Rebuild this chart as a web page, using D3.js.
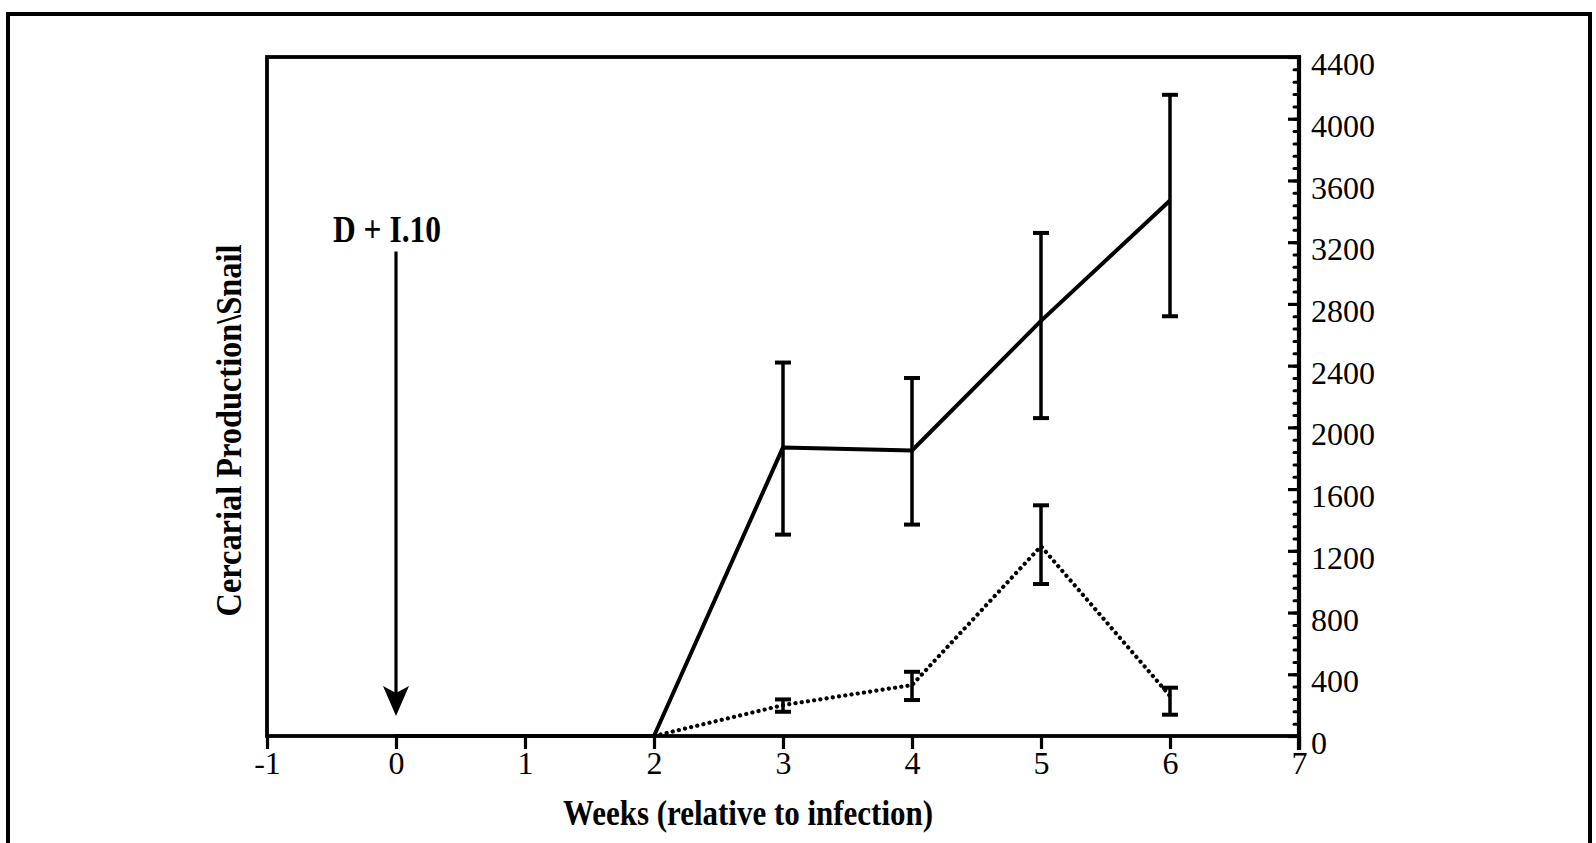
<!DOCTYPE html>
<html>
<head>
<meta charset="utf-8">
<script src="https://cdn.jsdelivr.net/npm/d3@7"></script>
<style>
  html, body { margin: 0; padding: 0; background: #fff; }
  svg { display: block; }
  text { font-family: "Liberation Serif", "Times New Roman", serif; fill: #000; }
</style>
</head>
<body>
<svg id="chart" width="1596" height="843"></svg>
<script>
// ---- data ----
const weeks = [0, 1, 2, 3, 4, 5, 6];
const solidMean  = [0, 0, 0, 1870, 1850, 2690, 3470];
const solidUpper = [null, null, null, 2420, 2320, 3260, 4155];
const solidLower = [null, null, null, 1305, 1370, 2060, 2720];
const dottedMean  = [0, 0, 0, 200, 330, 1230, 260];
const dottedUpper = [null, null, null, 237, 416, 1495, 313];
const dottedLower = [null, null, null, 157, 233, 985, 138];
const xTicks = [-1, 0, 1, 2, 3, 4, 5, 6, 7];
const yTicks = [0, 400, 800, 1200, 1600, 2000, 2400, 2800, 3200, 3600, 4000, 4400];
const yMinorTicks = d3.range(0, 4401, 80);
const xTitle = "Weeks (relative to infection)";
const yTitle = "Cercarial Production\\Snail";
const annotationLabel = "D + I.10";
const annotationWeek = 0;
const annotationLabelAt = 3170;
const annotationTop = 3140;
const annotationTip = 130;

// ---- layout ----
const svg = d3.select("#chart");
const x = d3.scaleLinear().domain([-1, 7]).range([267, 1299]);
const y = d3.scaleLinear().domain([0, 4400]).range([736, 57]);

svg.append("rect").attr("width", 1596).attr("height", 843).attr("fill", "#fff");

// outer frame
svg.append("rect")
  .attr("x", 8).attr("y", 14).attr("width", 1582).attr("height", 860)
  .attr("fill", "none").attr("stroke", "#000").attr("stroke-width", 4);

// plot box
svg.append("rect")
  .attr("x", x(-1)).attr("y", y(4400))
  .attr("width", x(7) - x(-1)).attr("height", y(0) - y(4400))
  .attr("fill", "none").attr("stroke", "#000").attr("stroke-width", 3.8);

// x axis
const xAxis = svg.append("g")
  .attr("transform", `translate(0,${y(0)})`)
  .call(d3.axisBottom(x).tickValues(xTicks).tickSize(13).tickPadding(1)
        .tickFormat(d => String(d)));
xAxis.select(".domain").remove();
xAxis.selectAll(".tick line").attr("stroke", "#000").attr("stroke-width", 3.2);
xAxis.selectAll(".tick text").attr("font-size", 32)
  .style("font-family", '"Liberation Serif", serif').attr("dy", "0.74em");

// right y axis: major ticks inward
const yMajor = svg.append("g")
  .attr("transform", `translate(${x(7)},0)`)
  .call(d3.axisLeft(y).tickValues(yTicks).tickSize(11).tickFormat(""));
yMajor.select(".domain").remove();
yMajor.selectAll(".tick line").attr("stroke", "#000").attr("stroke-width", 3.2);

const yMinor = svg.append("g")
  .attr("transform", `translate(${x(7)},0)`)
  .call(d3.axisLeft(y).tickValues(yMinorTicks).tickSize(5).tickFormat(""));
yMinor.select(".domain").remove();
yMinor.selectAll(".tick line").attr("stroke", "#000").attr("stroke-width", 3)
  .attr("stroke-linecap", "round");

const yLabels = svg.append("g")
  .attr("transform", `translate(${x(7)},0)`)
  .call(d3.axisRight(y).tickValues(yTicks).tickSize(0).tickPadding(12)
        .tickFormat(d => String(d)));
yLabels.select(".domain").remove();
yLabels.selectAll(".tick text").attr("font-size", 32)
  .style("font-family", '"Liberation Serif", serif').attr("dy", "0.55em");

svg.append("line")
  .attr("x1", x(7)).attr("x2", x(7))
  .attr("y1", y(4400) - 1.5).attr("y2", y(0) + 14)
  .attr("stroke", "#000").attr("stroke-width", 4.2);

// series
const line = d3.line().x(d => x(d.w)).y(d => y(d.v));
const solidData = weeks.map((w, i) => ({w, v: solidMean[i], hi: solidUpper[i], lo: solidLower[i]}));
const dottedData = weeks.map((w, i) => ({w, v: dottedMean[i], hi: dottedUpper[i], lo: dottedLower[i]}));

svg.append("path").datum(dottedData).attr("d", line)
  .attr("fill", "none").attr("stroke", "#000").attr("stroke-width", 4.2)
  .attr("stroke-linecap", "round").attr("stroke-dasharray", "0.1,6.2");

svg.append("path").datum(solidData).attr("d", line)
  .attr("fill", "none").attr("stroke", "#000").attr("stroke-width", 4)
  .attr("stroke-linejoin", "round");

function errorBars(data) {
  const g = svg.append("g").attr("stroke", "#000").attr("stroke-width", 3.5);
  const d = data.filter(p => p.hi != null);
  g.selectAll(".v").data(d).enter().append("line")
    .attr("x1", p => x(p.w)).attr("x2", p => x(p.w))
    .attr("y1", p => y(p.hi)).attr("y2", p => y(p.lo));
  g.selectAll(".t").data(d).enter().append("line")
    .attr("x1", p => x(p.w) - 8).attr("x2", p => x(p.w) + 8)
    .attr("y1", p => y(p.hi)).attr("y2", p => y(p.hi)).attr("stroke-width", 4);
  g.selectAll(".b").data(d).enter().append("line")
    .attr("x1", p => x(p.w) - 8).attr("x2", p => x(p.w) + 8)
    .attr("y1", p => y(p.lo)).attr("y2", p => y(p.lo)).attr("stroke-width", 4);
}
errorBars(solidData);
errorBars(dottedData);

// annotation arrow
const ax = x(annotationWeek);
const tipY = y(annotationTip);
svg.append("line")
  .attr("x1", ax).attr("x2", ax)
  .attr("y1", y(annotationTop)).attr("y2", tipY - 20)
  .attr("stroke", "#000").attr("stroke-width", 3.2);
svg.append("path")
  .attr("d", `M${ax},${tipY} L${ax - 13},${tipY - 30} L${ax},${tipY - 23} L${ax + 13},${tipY - 30} Z`)
  .attr("fill", "#000");
svg.append("text")
  .attr("x", ax - 9).attr("y", y(annotationLabelAt) - 5)
  .attr("text-anchor", "middle").attr("font-size", 37).attr("font-weight", "bold")
  .attr("textLength", 108).attr("lengthAdjust", "spacingAndGlyphs")
  .text(annotationLabel);

// axis titles
svg.append("text")
  .attr("x", 748).attr("y", 825)
  .attr("text-anchor", "middle").attr("font-size", 36).attr("font-weight", "bold")
  .attr("textLength", 370).attr("lengthAdjust", "spacingAndGlyphs")
  .text(xTitle);

svg.append("text")
  .attr("transform", `translate(241,${(y(0) + y(4400)) / 2 + 34}) rotate(-90)`)
  .attr("text-anchor", "middle").attr("font-size", 36).attr("font-weight", "bold")
  .attr("textLength", 372).attr("lengthAdjust", "spacingAndGlyphs")
  .text(yTitle);
</script>
</body>
</html>
